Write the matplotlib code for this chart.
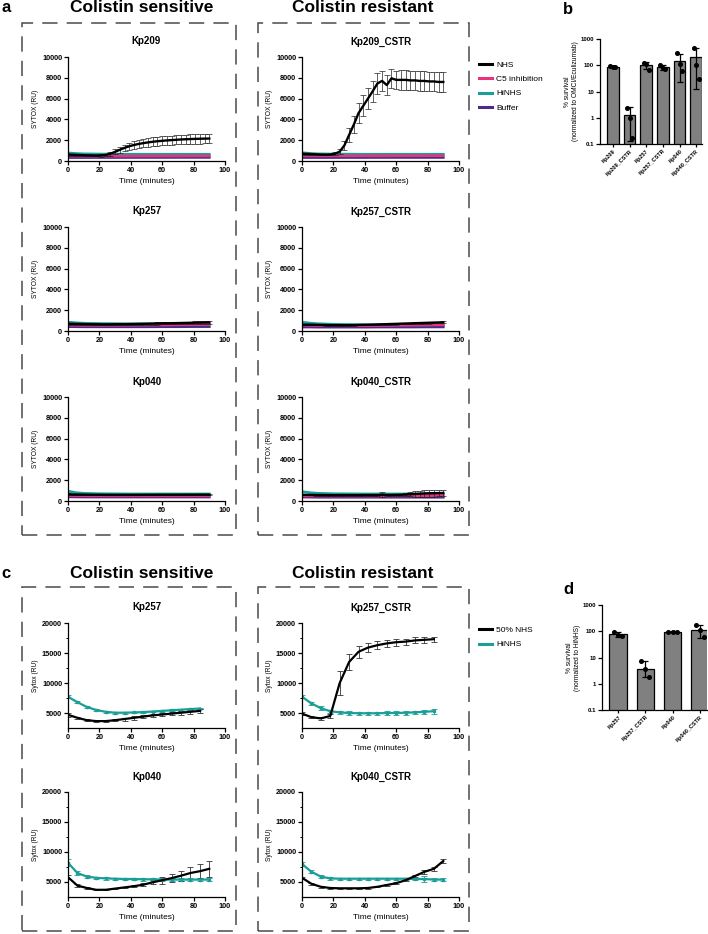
import matplotlib.pyplot as plt
from matplotlib.lines import Line2D
from matplotlib.patches import Rectangle
from matplotlib.ticker import FixedLocator, NullLocator

plt.rcParams['font.family'] = ['Liberation Sans', 'DejaVu Sans']
plt.rcParams['font.weight'] = 'bold'

W, H = 708, 934

BLACK = '#000000'
PINK = '#e8337a'
TEAL = '#1a9e98'
PURPLE = '#4b2c8e'
BAR_GRAY = '#808080'
BOX_GRAY = '#4a4a4a'

# ---------------- panel a: SYTOX influx, 4 conditions ----------------
t_a = list(range(0, 91, 3))                 # NHS curves (with SD)
t_flat = [0, 5, 10, 20, 30, 40, 50, 60, 70, 80, 90]  # other conditions

kp209_nhs = [620, 600, 580, 560, 545, 535, 525, 530, 580, 700, 880, 1080, 1260, 1420, 1540, 1640,
             1720, 1790, 1850, 1900, 1940, 1980, 2010, 2040, 2070, 2090, 2110, 2130, 2140, 2150, 2160]
kp209_nhs_sd = [100, 90, 90, 80, 80, 80, 80, 100, 140, 200, 250, 290, 320, 350, 370, 380,
                390, 400, 410, 420, 430, 430, 440, 440, 450, 450, 450, 460, 460, 460, 460]
kp209_hinhs = [780, 720, 690, 670, 660, 650, 650, 650, 650, 650, 650]
kp209_c5 = [470, 470, 470, 470, 470, 475, 480, 480, 485, 490, 490]
kp209_buf = [330, 330, 330, 335, 335, 340, 340, 340, 345, 345, 345]

kp209c_nhs = [700, 680, 660, 640, 620, 610, 620, 700, 900, 1500, 2500, 3500, 4600, 5300, 6000, 6700,
              7450, 7700, 7300, 7950, 7800, 7800, 7800, 7750, 7750, 7700, 7700, 7650, 7650, 7600, 7600]
kp209c_nhs_sd = [80, 80, 80, 80, 80, 80, 90, 150, 250, 450, 650, 850, 950, 1000, 1000, 1000,
                 1000, 1000, 950, 900, 900, 950, 950, 950, 950, 950, 950, 950, 950, 950, 950]
kp209c_hinhs = [800, 730, 690, 670, 660, 650, 650, 650, 650, 650, 650]
kp209c_c5 = [500, 500, 500, 500, 500, 500, 500, 505, 505, 510, 510]
kp209c_buf = [330, 330, 330, 330, 335, 335, 340, 340, 340, 340, 340]

kp257_nhs = [700, 690, 680, 670, 660, 650, 645, 640, 640, 640, 645, 650, 655, 660, 670, 680,
             690, 700, 710, 720, 730, 740, 750, 760, 770, 780, 790, 800, 810, 820, 830]
kp257_nhs_sd = [100, 90, 80, 80, 80, 80, 80, 80, 80, 80, 80, 80, 80, 90, 90, 90,
                90, 100, 100, 100, 100, 110, 110, 110, 120, 120, 120, 130, 130, 130, 130]
kp257_hinhs = [850, 790, 750, 720, 710, 700, 700, 700, 700, 700, 700]
kp257_c5 = [560, 550, 540, 540, 540, 550, 560, 580, 600, 620, 640]
kp257_buf = [420, 410, 400, 400, 400, 400, 400, 410, 410, 420, 420]

kp257c_nhs = [620, 610, 600, 590, 580, 570, 565, 560, 560, 560, 565, 570, 580, 590, 600, 615,
              630, 645, 660, 675, 690, 705, 720, 735, 750, 765, 780, 795, 810, 825, 840]
kp257c_nhs_sd = [60, 60, 50, 50, 50, 50, 50, 50, 50, 50, 50, 50, 50, 50, 60, 60,
                 60, 60, 60, 60, 70, 70, 70, 70, 70, 70, 80, 80, 80, 80, 80]
kp257c_hinhs = [850, 760, 700, 650, 620, 610, 600, 600, 600, 600, 600]
kp257c_c5 = [560, 540, 520, 500, 500, 510, 520, 540, 560, 580, 600]
kp257c_buf = [380, 380, 370, 370, 370, 370, 380, 380, 380, 390, 390]

kp040_nhs = [650, 630, 620, 610, 600, 600, 595, 595, 590, 590, 590, 590, 590, 590, 590, 590,
             595, 595, 595, 600, 600, 600, 600, 600, 600, 605, 605, 605, 610, 610, 610]
kp040_nhs_sd = [80, 70, 60, 60, 50, 50, 50, 50, 50, 50, 50, 50, 50, 50, 50, 50,
                50, 50, 50, 50, 50, 50, 50, 50, 50, 50, 50, 50, 50, 50, 50]
kp040_hinhs = [950, 800, 740, 700, 690, 680, 680, 680, 680, 680, 680]
kp040_c5 = [520, 510, 500, 500, 500, 500, 500, 500, 500, 500, 500]
kp040_buf = [400, 390, 380, 380, 380, 380, 380, 380, 380, 380, 380]

kp040c_nhs = [600, 590, 580, 575, 570, 570, 565, 565, 565, 565, 565, 565, 565, 570, 570, 570,
              570, 600, 580, 580, 590, 600, 620, 650, 680, 700, 730, 740, 750, 760, 770]
kp040c_nhs_sd = [60, 50, 50, 50, 50, 50, 50, 50, 50, 50, 50, 50, 50, 50, 50, 50,
                 60, 250, 80, 80, 100, 120, 150, 200, 250, 280, 300, 320, 320, 320, 320]
kp040c_hinhs = [900, 800, 740, 700, 690, 680, 680, 680, 680, 680, 680]
kp040c_c5 = [500, 490, 480, 480, 480, 480, 480, 490, 500, 520, 540]
kp040c_buf = [380, 370, 360, 360, 360, 360, 360, 360, 360, 360, 360]

# ---------------- panel b: survival, normalized to OMCI/Eculizumab ----------------
b_labels = ['Kp209', 'Kp209_CSTR', 'Kp257', 'Kp257_CSTR', 'Kp040', 'Kp040_CSTR']
b_mean = [88, 1.25, 100, 85, 150, 205]
b_lo = [85, 0.13, 72, 68, 23, 12]
b_hi = [91, 2.5, 128, 102, 280, 440]
b_pts = [[90, 87, 86], [2.4, 1.0, 0.17], [120, 112, 65], [103, 78, 72], [290, 110, 62], [440, 100, 30]]

# ---------------- panel c: SYTOX influx, 50% NHS vs HiNHS ----------------
t_c1 = list(range(0, 85, 6))
t_c2 = list(range(0, 91, 6))

c_kp257_nhs = [4700, 4200, 3800, 3650, 3650, 3800, 4000, 4200, 4400, 4600, 4750, 4900, 5050, 5200, 5350]
c_kp257_nhs_sd = [300, 200, 150, 150, 150, 200, 250, 300, 300, 300, 300, 300, 300, 300, 300]
c_kp257_hi = [7700, 6800, 6000, 5500, 5200, 5050, 5050, 5100, 5150, 5250, 5350, 5450, 5550, 5650, 5750]
c_kp257_hi_sd = [250, 200, 150, 150, 150, 150, 150, 150, 150, 150, 150, 150, 150, 150, 150]

c_kp257c_nhs = [4900, 4300, 4100, 4500, 10000, 13500, 15200, 15900, 16300, 16600, 16800, 16900, 17100, 17200, 17300]
c_kp257c_nhs_sd = [200, 200, 200, 300, 2000, 1300, 1000, 800, 700, 600, 600, 500, 500, 450, 400]
c_kp257c_hi = [7700, 6600, 5800, 5300, 5100, 5000, 4950, 4950, 4950, 5000, 5000, 5050, 5100, 5200, 5300]
c_kp257c_hi_sd = [250, 300, 300, 250, 300, 300, 300, 300, 300, 300, 300, 300, 300, 300, 400]

c_kp040_nhs = [5800, 4400, 4000, 3700, 3700, 3900, 4100, 4300, 4550, 4950, 5300, 5650, 6050, 6500, 6800, 7200]
c_kp040_nhs_sd = [300, 200, 150, 100, 100, 100, 150, 200, 250, 350, 600, 700, 800, 1000, 1200, 1350]
c_kp040_hi = [8200, 6500, 5900, 5700, 5600, 5550, 5500, 5500, 5450, 5450, 5400, 5400, 5400, 5400, 5400, 5400]
c_kp040_hi_sd = [600, 300, 250, 200, 200, 200, 200, 200, 200, 200, 200, 200, 200, 200, 200, 200]

c_kp040c_nhs = [5700, 4700, 4200, 4000, 3950, 3950, 3950, 4000, 4200, 4500, 4800, 5300, 6000, 6700, 7200, 8500]
c_kp040c_nhs_sd = [200, 150, 150, 100, 100, 100, 100, 100, 100, 150, 150, 200, 200, 300, 300, 400]
c_kp040c_hi = [8000, 6700, 5900, 5600, 5550, 5550, 5550, 5550, 5550, 5550, 5550, 5550, 5500, 5500, 5400, 5400]
c_kp040c_hi_sd = [300, 250, 200, 200, 200, 200, 200, 200, 200, 200, 200, 200, 200, 550, 200, 200]

# ---------------- panel d: survival, normalized to HiNHS ----------------
d_labels = ['Kp257', 'Kp257_CSTR', 'Kp040', 'Kp040_CSTR']
d_mean = [78, 3.7, 95, 110]
d_lo = [60, 1.8, 91, 55]
d_hi = [95, 7.5, 99, 180]
d_pts = [[95, 75, 68], [7.3, 3.8, 1.8], [96, 95, 93], [175, 110, 58]]


def px_axes(fig, left, top, right, bottom):
    return fig.add_axes([left / W, 1 - bottom / H, (right - left) / W, (bottom - top) / H])


def style(ax, labelsize=5.2):
    for s in ['top', 'right']:
        ax.spines[s].set_visible(False)
    for s in ['left', 'bottom']:
        ax.spines[s].set_linewidth(0.9)
    ax.tick_params(width=0.9, length=3, labelsize=labelsize, pad=1.2)
    ax.tick_params(which='minor', width=0.7, length=1.8)


def sytox_panel(ax, title, nhs, nhs_sd, hinhs, c5, buf):
    ax.plot(t_flat, buf, color=PURPLE, lw=1.9)
    ax.plot(t_flat, hinhs, color=TEAL, lw=1.9)
    ax.plot(t_flat, c5, color=PINK, lw=1.9)
    ax.errorbar(t_a, nhs, yerr=nhs_sd, color=BLACK, lw=1.7, ecolor='#222222',
                elinewidth=0.5, capsize=2.2, capthick=0.5)
    ax.set_xlim(0, 100)
    ax.set_ylim(0, 10000)
    ax.set_xticks(range(0, 101, 20))
    ax.set_yticks(range(0, 10001, 2000))
    ax.set_title(title, fontsize=7, fontweight='bold', pad=9)
    ax.set_xlabel('Time (minutes)', fontsize=6, labelpad=3)
    ax.set_ylabel('SYTOX (RU)', fontsize=4.8, labelpad=2)
    style(ax)


def sytox_c_panel(ax, title, t, nhs, nhs_sd, hi, hi_sd):
    ax.errorbar(t, hi, yerr=hi_sd, color=TEAL, lw=1.6, elinewidth=0.6, capsize=2, capthick=0.6,
                marker='s', ms=1.6)
    ax.errorbar(t, nhs, yerr=nhs_sd, color=BLACK, lw=1.6, ecolor='#333333',
                elinewidth=0.6, capsize=2, capthick=0.6)
    ax.set_xlim(0, 100)
    ax.set_ylim(2500, 20000)
    ax.set_xticks(range(0, 101, 20))
    ax.set_yticks([5000, 10000, 15000, 20000])
    ax.yaxis.set_minor_locator(FixedLocator([7500, 12500, 17500]))
    ax.set_title(title, fontsize=7, fontweight='bold', pad=9)
    ax.set_xlabel('Time (minutes)', fontsize=6, labelpad=3)
    ax.set_ylabel('Sytox (RU)', fontsize=4.8, labelpad=2)
    style(ax)


def survival_panel(ax, labels, mean, lo, hi, pts, ylabel, width, left_pad):
    x = list(range(len(labels)))
    ax.bar(x, mean, width=width, color=BAR_GRAY, edgecolor=BLACK, linewidth=0.9, zorder=1)
    err = [[m - l for m, l in zip(mean, lo)], [h - m for m, h in zip(mean, hi)]]
    ax.errorbar(x, mean, yerr=err, fmt='none', ecolor=BLACK, elinewidth=0.9,
                capsize=2.5, capthick=0.9, zorder=2)
    offsets = [-0.15, 0.0, 0.15]
    for i, vals in enumerate(pts):
        ax.plot([i + o for o in offsets], vals, 'o', color=BLACK, ms=2.6, zorder=3)
    ax.set_yscale('log')
    ax.set_ylim(0.1, 1000)
    ax.yaxis.set_major_locator(FixedLocator([0.1, 1, 10, 100, 1000]))
    ax.set_yticklabels(['0.1', '1', '10', '100', '1000'])
    ax.yaxis.set_minor_locator(NullLocator())
    ax.set_xlim(-left_pad, len(labels) - 1 + left_pad * 0.45)
    ax.set_xticks(x)
    ax.set_xticklabels(labels, rotation=45, ha='right', rotation_mode='anchor')
    ax.set_ylabel(ylabel, fontsize=4.8, fontweight='normal', labelpad=1.5, linespacing=1.1)
    style(ax, labelsize=4.4)
    ax.tick_params(axis='x', length=2, labelsize=4.0)


fig = plt.figure(figsize=(W / 100, H / 100), dpi=100)

# dashed group boxes
for (l, t, r, b) in [(22, 23, 236, 535), (258, 23, 469, 535), (22, 587, 236, 931), (258, 587, 469, 931)]:
    fig.add_artist(Rectangle((l / W, 1 - b / H), (r - l) / W, (b - t) / H, transform=fig.transFigure,
                             fill=False, edgecolor=BOX_GRAY, linewidth=1.1, linestyle=(0, (10, 6))))

# headings and panel letters
for y in [8, 573]:
    fig.text(142 / W, 1 - y / H, 'Colistin sensitive', ha='center', va='center', fontsize=12.5, weight='bold')
    fig.text(363 / W, 1 - y / H, 'Colistin resistant', ha='center', va='center', fontsize=12.5, weight='bold')
fig.text(1 / W, 1 - 8 / H, 'a', va='center', fontsize=12, weight='bold')
fig.text(563 / W, 1 - 9 / H, 'b', va='center', fontsize=12, weight='bold')
fig.text(1 / W, 1 - 573 / H, 'c', va='center', fontsize=12, weight='bold')
fig.text(563 / W, 1 - 589 / H, 'd', va='center', fontsize=12, weight='bold')

# panel a grid
rows_a = [(57, 161), (227, 331), (397, 501)]
cols = [(68, 225), (302, 459)]
panels_a = [
    [('Kp209', kp209_nhs, kp209_nhs_sd, kp209_hinhs, kp209_c5, kp209_buf),
     ('Kp209_CSTR', kp209c_nhs, kp209c_nhs_sd, kp209c_hinhs, kp209c_c5, kp209c_buf)],
    [('Kp257', kp257_nhs, kp257_nhs_sd, kp257_hinhs, kp257_c5, kp257_buf),
     ('Kp257_CSTR', kp257c_nhs, kp257c_nhs_sd, kp257c_hinhs, kp257c_c5, kp257c_buf)],
    [('Kp040', kp040_nhs, kp040_nhs_sd, kp040_hinhs, kp040_c5, kp040_buf),
     ('Kp040_CSTR', kp040c_nhs, kp040c_nhs_sd, kp040c_hinhs, kp040c_c5, kp040c_buf)],
]
for (top, bot), row in zip(rows_a, panels_a):
    for (left, right), spec in zip(cols, row):
        ax = px_axes(fig, left, top, right, bot)
        sytox_panel(ax, *spec)

handles_a = [Line2D([], [], color=c, lw=2.2) for c in [BLACK, PINK, TEAL, PURPLE]]
fig.legend(handles_a, ['NHS', 'C5 inhibition', 'HiNHS', 'Buffer'], loc='center left',
           bbox_to_anchor=(479 / W, 1 - 86.5 / H), frameon=False, borderpad=0, borderaxespad=0,
           handlelength=1.5, handletextpad=0.6, labelspacing=0.75,
           prop={'size': 6, 'weight': 'normal'})

# panel b
ax_b = px_axes(fig, 600, 39, 702, 144)
survival_panel(ax_b, b_labels, b_mean, b_lo, b_hi, b_pts,
               '% survival\n(normalized to OMCI/Eculizumab)', 0.7, 0.78)

# panel c grid
rows_c = [(623, 728), (792, 897)]
panels_c = [
    [('Kp257', t_c1, c_kp257_nhs, c_kp257_nhs_sd, c_kp257_hi, c_kp257_hi_sd),
     ('Kp257_CSTR', t_c1, c_kp257c_nhs, c_kp257c_nhs_sd, c_kp257c_hi, c_kp257c_hi_sd)],
    [('Kp040', t_c2, c_kp040_nhs, c_kp040_nhs_sd, c_kp040_hi, c_kp040_hi_sd),
     ('Kp040_CSTR', t_c2, c_kp040c_nhs, c_kp040c_nhs_sd, c_kp040c_hi, c_kp040c_hi_sd)],
]
for (top, bot), row in zip(rows_c, panels_c):
    for (left, right), spec in zip(cols, row):
        ax = px_axes(fig, left, top, right, bot)
        sytox_c_panel(ax, *spec)

handles_c = [Line2D([], [], color=c, lw=2.2) for c in [BLACK, TEAL]]
fig.legend(handles_c, ['50% NHS', 'HiNHS'], loc='center left',
           bbox_to_anchor=(479 / W, 1 - 637.5 / H), frameon=False, borderpad=0, borderaxespad=0,
           handlelength=1.5, handletextpad=0.6, labelspacing=0.75,
           prop={'size': 6, 'weight': 'normal'})

# panel d
ax_d = px_axes(fig, 602, 605, 707, 710)
survival_panel(ax_d, d_labels, d_mean, d_lo, d_hi, d_pts,
               '% survival\n(normalized to HiNHS)', 0.65, 0.6)

fig.savefig('out.png', dpi=100)
